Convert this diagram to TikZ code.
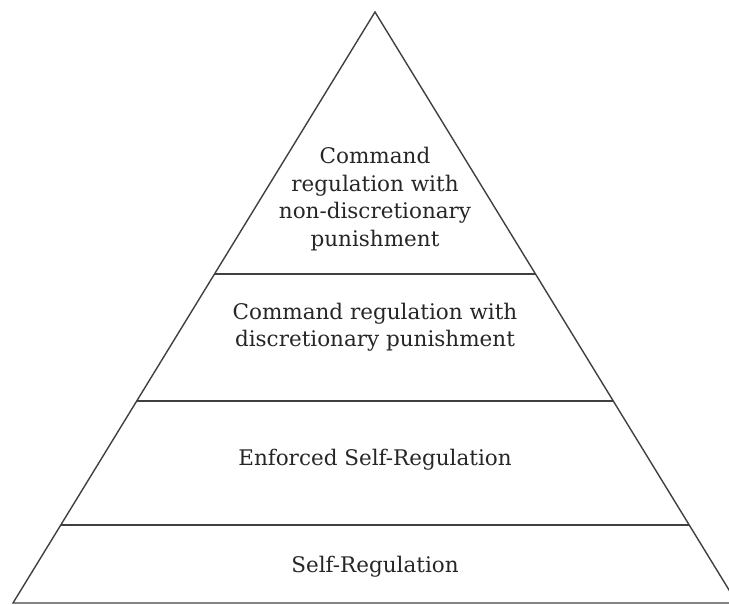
\documentclass[tikz,border=0pt]{standalone}
\usepackage{fontspec}
\setmainfont{DejaVu Serif}
\usetikzlibrary{positioning,calc}

\begin{document}
\begin{tikzpicture}[
  x=1pt, y=-1pt,
  tier/.style={align=center, font=\fontsize{21.5}{27.5}\selectfont, text=black!85},
  edge/.style={draw=black!75, line width=1.4pt}
]
\useasboundingbox (0,0) rectangle (729,605);
\clip (0,0) rectangle (729,605);

% Pyramid outline
\coordinate (apex) at (375,12);
\coordinate (bl) at (13,603);
\coordinate (br) at (737,603);
\draw[edge, line join=miter] (bl) -- (apex) -- (br) -- cycle;

% Tier borders
\draw[edge] ($(apex)!0.443!(bl)$) -- ($(apex)!0.443!(br)$);
\draw[edge] ($(apex)!0.658!(bl)$) -- ($(apex)!0.658!(br)$);
\draw[edge] ($(apex)!0.868!(bl)$) -- ($(apex)!0.868!(br)$);

% Tier labels
\node[tier] (t4) at (375,199) {Command\\regulation with\\non-discretionary\\punishment};
\node[tier] (t3) at (375,327) {Command regulation with\\discretionary punishment};
\node[tier] (t2) at (375,460) {Enforced Self-Regulation};
\node[tier] (t1) at (375,567) {Self-Regulation};

\end{tikzpicture}
\end{document}
